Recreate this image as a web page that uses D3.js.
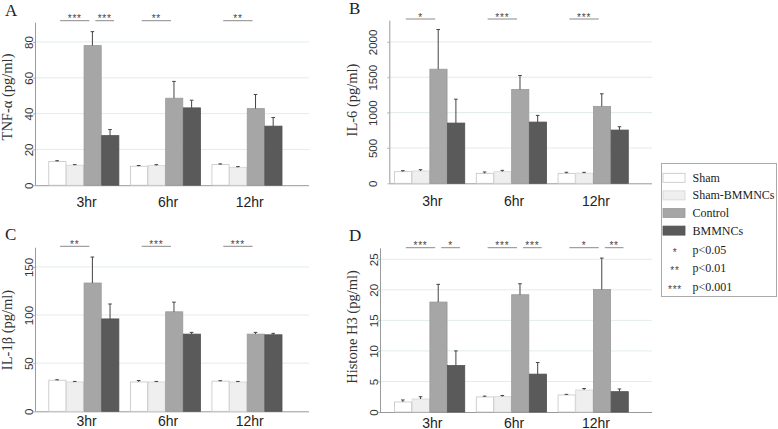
<!DOCTYPE html>
<html><head><meta charset="utf-8">
<script src="https://cdn.jsdelivr.net/npm/d3@7"></script>
<style>
html,body{margin:0;padding:0;background:#fff;}
svg{display:block;}
</style>
</head><body>
<svg id="chart" width="778" height="429"></svg>
<script>
// ---- data ----
const groups = ["3hr", "6hr", "12hr"];
const seriesNames = ["Sham", "Sham-BMMNCs", "Control", "BMMNCs"];

const tnfMean = [[13.3, 11.2, 78.0, 27.7], [10.6, 11.0, 48.6, 43.2], [11.5, 10.0, 42.8, 33.0]];
const tnfErr  = [[0.4, 0.3, 7.8, 3.4], [0.4, 0.5, 9.4, 4.3], [0.4, 0.4, 7.9, 4.8]];
const tnfTicks = [0, 20, 40, 60, 80];
const tnfSig = [["3hr", "Sham", "Control", "***"], ["3hr", "Control", "BMMNCs", "***"], ["6hr", "Sham", "Control", "**"], ["12hr", "Sham", "Control", "**"]];

const il6Mean = [[164, 174, 1614, 852], [141, 164, 1328, 866], [141, 143, 1088, 753]];
const il6Err  = [[15, 18, 561, 338], [19, 19, 197, 94], [15, 12, 178, 47]];
const il6Ticks = [0, 500, 1000, 1500, 2000];
const il6Sig = [["3hr", "Sham", "Control", "*"], ["6hr", "Sham", "Control", "***"], ["12hr", "Sham", "Control", "***"]];

const il1bMean = [[32.3, 30.5, 133.3, 96.0], [30.5, 30.5, 103.4, 80.2], [31.3, 30.5, 80.2, 79.5]];
const il1bErr  = [[0.5, 0.5, 27.0, 15.5], [1.5, 0.5, 10.0, 1.8], [0.5, 0.5, 1.8, 1.5]];
const il1bTicks = [0, 50, 100, 150];
const il1bSig = [["3hr", "Sham", "Control", "**"], ["6hr", "Sham", "Control", "***"], ["12hr", "Sham", "Control", "***"]];

const h3Mean = [[1.64, 2.13, 18.0, 7.6], [2.46, 2.51, 19.2, 6.2], [2.79, 3.6, 20.05, 3.33]];
const h3Err  = [[0.33, 0.37, 2.9, 2.4], [0.14, 0.19, 1.8, 1.9], [0.1, 0.25, 5.15, 0.44]];
const h3Ticks = [0, 5, 10, 15, 20, 25];
const h3Sig = [["3hr", "Sham", "Control", "***"], ["3hr", "Control", "BMMNCs", "*"], ["6hr", "Sham", "Control", "***"], ["6hr", "Control", "BMMNCs", "***"], ["12hr", "Sham", "Control", "*"], ["12hr", "Control", "BMMNCs", "**"]];

const legendSig = [["*", "p<0.05"], ["**", "p<0.01"], ["***", "p<0.001"]];

// ---- styles ----
const fills = { "Sham": "#ffffff", "Sham-BMMNCs": "#efefef", "Control": "#a6a6a6", "BMMNCs": "#5a5a5a" };
const strokes = { "Sham": "#c4c4c4", "Sham-BMMNCs": "#d4d4d4", "Control": "#9a9a9a", "BMMNCs": "#505050" };
const serif = "'Liberation Serif','Times New Roman',serif";
const sans = "'Liberation Sans',Arial,sans-serif";

const svg = d3.select("#chart");

const panels = [
  { letter: "A", lx: 5, ly: 16, title: "TNF-α (pg/ml)", tx: 12, ty: 97, mean: tnfMean, err: tnfErr, ticks: tnfTicks, sig: tnfSig, max: 90.8,
    axisX: 35, xEnd: 309, gx: [48.3, 282], y0: 185.2, yTop: 22.7, labOff: 2, sigY: 20.7, labY: 207 },
  { letter: "B", lx: 349, ly: 14, title: "IL-6 (pg/ml)", tx: 357, ty: 100, mean: il6Mean, err: il6Err, ticks: il6Ticks, sig: il6Sig, max: 2300,
    axisX: 389.3, xEnd: 652, gx: [394, 628.3], y0: 183.3, yTop: 20.7, labOff: 12, sigY: 19, labY: 205.5 },
  { letter: "C", lx: 5, ly: 240, title: "IL-1β (pg/ml)", tx: 12, ty: 330, mean: il1bMean, err: il1bErr, ticks: il1bTicks, sig: il1bSig, max: 170,
    axisX: 35, xEnd: 309, gx: [48.3, 282], y0: 411.3, yTop: 247.7, labOff: 2, sigY: 246.3, labY: 426 },
  { letter: "D", lx: 349, ly: 241, title: "Histone H3 (pg/ml)", tx: 357, ty: 327, mean: h3Mean, err: h3Err, ticks: h3Ticks, sig: h3Sig, max: 26.8,
    axisX: 380, xEnd: 652, gx: [394, 628.3], y0: 412, yTop: 248.3, labOff: 2, sigY: 247.7, labY: 427.5 }
];

panels.forEach(p => {
  const g = svg.append("g");
  const y = d3.scaleLinear().domain([0, p.max]).range([p.y0, p.yTop]);
  const x0 = d3.scaleBand().domain(groups).range(p.gx).paddingInner(0.135).paddingOuter(0);
  const x1 = d3.scaleBand().domain(seriesNames).range([0, x0.bandwidth()]).padding(0);

  // gridlines
  g.append("g").selectAll("line").data(p.ticks.filter(t => t > 0)).join("line")
    .attr("x1", p.axisX - 2).attr("x2", p.xEnd)
    .attr("y1", d => y(d)).attr("y2", d => y(d))
    .attr("stroke", "#e3ebeb").attr("stroke-width", 1);

  // y axis
  const ax = g.append("g").attr("transform", `translate(${p.axisX},0)`)
    .call(d3.axisLeft(y).tickValues(p.ticks).tickSize(2).tickSizeOuter(0).tickFormat(d3.format("d")));
  ax.select(".domain").attr("stroke", "#9a9a9a").attr("d", `M0.5,${p.y0}V${p.yTop}`);
  ax.selectAll(".tick line").attr("stroke", "#bbb");
  ax.selectAll(".tick text")
    .attr("x", null).attr("y", null).attr("dy", null)
    .attr("text-anchor", "middle")
    .attr("transform", `translate(${-p.labOff},0) rotate(-90)`)
    .attr("fill", "#333").style("font-family", sans).style("font-size", "11.5px");

  // baseline
  g.append("line").attr("x1", p.axisX).attr("x2", p.xEnd).attr("y1", p.y0 + 0.5).attr("y2", p.y0 + 0.5)
    .attr("stroke", "#999").attr("stroke-width", 1);

  // bars
  const rows = [];
  groups.forEach((gr, gi) => seriesNames.forEach((s, si) => rows.push({ gr, s, v: p.mean[gi][si], e: p.err[gi][si] })));
  g.append("g").selectAll("rect").data(rows).join("rect")
    .attr("x", d => x0(d.gr) + x1(d.s) + 0.5)
    .attr("y", d => y(d.v))
    .attr("width", x1.bandwidth() - 0.5)
    .attr("height", d => p.y0 - y(d.v))
    .attr("fill", d => fills[d.s]).attr("stroke", d => strokes[d.s]).attr("stroke-width", 0.8);

  // error bars
  const eb = g.append("g").attr("stroke", "#444").attr("stroke-width", 1);
  eb.selectAll("line.v").data(rows).join("line").attr("class", "v")
    .attr("x1", d => x0(d.gr) + x1(d.s) + x1.bandwidth() / 2)
    .attr("x2", d => x0(d.gr) + x1(d.s) + x1.bandwidth() / 2)
    .attr("y1", d => y(d.v)).attr("y2", d => y(d.v + d.e));
  eb.selectAll("line.c").data(rows).join("line").attr("class", "c")
    .attr("x1", d => x0(d.gr) + x1(d.s) + x1.bandwidth() / 2 - 1.8)
    .attr("x2", d => x0(d.gr) + x1(d.s) + x1.bandwidth() / 2 + 1.8)
    .attr("y1", d => y(d.v + d.e)).attr("y2", d => y(d.v + d.e));

  // significance
  const cx = (gr, s) => x0(gr) + x1(s) + x1.bandwidth() / 2;
  const sg = g.append("g");
  p.sig.forEach(([gr, a, b, lab]) => {
    const xa = cx(gr, a) + 3;
    const xb = cx(gr, b) + (b === "BMMNCs" ? 4 : -3);
    sg.append("line").attr("x1", xa).attr("x2", xb).attr("y1", p.sigY).attr("y2", p.sigY)
      .attr("stroke", "#8a8a8a").attr("stroke-width", 1);
    sg.append("text").attr("x", (xa + xb) / 2).attr("y", p.sigY + 1.5)
      .attr("text-anchor", "middle").attr("fill", "#444")
      .style("font-family", sans).style("font-size", "10px").style("letter-spacing", "0.8px")
      .text(lab);
  });

  // x labels
  g.append("g").selectAll("text").data(groups).join("text")
    .attr("x", d => x0(d) + x0.bandwidth() / 2 + 3).attr("y", p.labY)
    .attr("text-anchor", "middle").attr("fill", "#222")
    .style("font-family", sans).style("font-size", "14px")
    .text(d => d);

  // y title
  g.append("text").attr("transform", `translate(${p.tx},${p.ty}) rotate(-90)`)
    .attr("text-anchor", "middle").attr("fill", "#333")
    .style("font-family", serif).style("font-size", "14.5px")
    .text(p.title);

  // panel letter
  g.append("text").attr("x", p.lx).attr("y", p.ly).attr("fill", "#222")
    .style("font-family", serif).style("font-size", "17px").text(p.letter);
});

// legend
const lg = svg.append("g");
lg.append("rect").attr("x", 661.5).attr("y", 163.5).attr("width", 115).attr("height", 133)
  .attr("fill", "#fff").attr("stroke", "#aaa").attr("stroke-width", 1);
const ly = d3.scalePoint().domain(seriesNames).range([177.8, 230.6]);
lg.selectAll("rect.sw").data(seriesNames).join("rect").attr("class", "sw")
  .attr("x", 663).attr("y", d => ly(d) - 4.5).attr("width", 22).attr("height", 9)
  .attr("fill", d => fills[d]).attr("stroke", d => strokes[d]).attr("stroke-width", 0.8);
lg.selectAll("text.nm").data(seriesNames).join("text").attr("class", "nm")
  .attr("x", 692.5).attr("y", d => ly(d) + 4)
  .attr("fill", "#222").style("font-family", serif).style("font-size", "12px")
  .text(d => d);
const ls = d3.scalePoint().domain(legendSig.map(d => d[1])).range([250, 286.7]);
lg.selectAll("text.st").data(legendSig).join("text").attr("class", "st")
  .attr("x", 675).attr("y", d => ls(d[1]) + 6).attr("text-anchor", "middle")
  .attr("fill", "#444").style("font-family", sans).style("font-size", "10px").style("letter-spacing", "0.8px")
  .text(d => d[0]);
lg.selectAll("text.pv").data(legendSig).join("text").attr("class", "pv")
  .attr("x", 692.5).attr("y", d => ls(d[1]) + 4)
  .attr("fill", "#222").style("font-family", serif).style("font-size", "12px")
  .text(d => d[1]);
</script>
</body></html>
